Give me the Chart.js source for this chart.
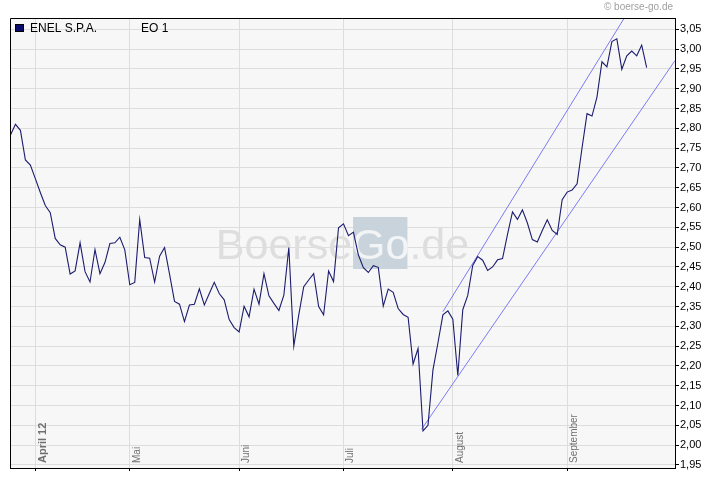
<!DOCTYPE html>
<html>
<head>
<meta charset="utf-8">
<script src="https://cdn.jsdelivr.net/npm/chart.js@4/dist/chart.umd.min.js"></script>
<style>
  html, body { margin: 0; padding: 0; background: #fff; }
  canvas { display: block; }
</style>
</head>
<body>
<canvas id="grafico" width="720" height="481"></canvas>
<script>
// Schlusskurse ENEL S.P.A., ein Wert pro Handelstag (26.03. - 25.09.2012)
const kurse = [
  2.783, 2.810, 2.795, 2.720, 2.707, 2.673, 2.638, 2.605, 2.587, 2.522,
  2.506, 2.500, 2.432, 2.440, 2.511, 2.438, 2.412, 2.494, 2.433, 2.461,
  2.509, 2.511, 2.525, 2.493, 2.405, 2.411, 2.570, 2.474, 2.472, 2.412,
  2.477, 2.499, 2.432, 2.363, 2.356, 2.312, 2.354, 2.356, 2.395, 2.354,
  2.383, 2.411, 2.383, 2.367, 2.317, 2.297, 2.286, 2.351, 2.324, 2.394,
  2.356, 2.433, 2.377, 2.358, 2.340, 2.379, 2.499, 2.250, 2.329, 2.400,
  2.417, 2.433, 2.350, 2.329, 2.440, 2.413, 2.549, 2.559, 2.529, 2.538,
  2.480, 2.448, 2.436, 2.453, 2.449, 2.351, 2.394, 2.386, 2.345, 2.330,
  2.323, 2.205, 2.244, 2.036, 2.050, 2.190, 2.258, 2.329, 2.339, 2.318,
  2.176, 2.342, 2.378, 2.454, 2.476, 2.467, 2.441, 2.450, 2.468, 2.471,
  2.532, 2.589, 2.570, 2.594, 2.561, 2.519, 2.513, 2.542, 2.569, 2.542,
  2.532, 2.620, 2.639, 2.644, 2.660, 2.751, 2.837, 2.831, 2.879, 2.968,
  2.955, 3.019, 3.026, 2.949, 2.983, 2.995, 2.983, 3.010, 2.953
];

// erster Handelstag je Monat (Index in kurse)
const monatIndex = [5, 24, 46, 67, 89, 112];
const monatLabels = ["April 12", "Mai", "Juni", "Juli", "August", "September"];

const yTicks = [1.95, 2.00, 2.05, 2.10, 2.15, 2.20, 2.25, 2.30, 2.35, 2.40, 2.45, 2.50,
                2.55, 2.60, 2.65, 2.70, 2.75, 2.80, 2.85, 2.90, 2.95, 3.00, 3.05];

// Trendkanal
const trendOben = [{ x: 87, y: 2.337 }, { x: 123.5, y: 3.0785 }];
const trendUnten = [{ x: 82.7, y: 2.040 }, { x: 133.7, y: 2.971 }];

const xMin = -0.1, xMax = 133.7;
const yMin = 1.9424, yMax = 3.0785;

const schrift = "'Liberation Sans', Arial, sans-serif";

const hintergrund = {
  id: "hintergrund",
  beforeDraw(chart) {
    const { ctx, chartArea: a } = chart;
    ctx.save();
    ctx.fillStyle = "#ffffff";
    ctx.fillRect(0, 0, chart.width, chart.height);
    ctx.fillStyle = "#f7f7f7";
    ctx.fillRect(a.left, a.top, a.right - a.left, a.bottom - a.top);
    ctx.restore();
  },
  beforeDatasetsDraw(chart) {
    // Wasserzeichen
    const { ctx, chartArea: a } = chart;
    const cx = (a.left + a.right) / 2;
    const cy = (a.top + a.bottom) / 2;
    ctx.save();
    ctx.font = "43px " + schrift;
    const w = ctx.measureText("BoerseGo.de").width;
    const wB = ctx.measureText("Boerse").width;
    const wG = ctx.measureText("Go").width;
    const x0 = cx - w / 2;
    const base = cy + 15.5;
    ctx.fillStyle = "#c9d3dc";
    ctx.fillRect(x0 + wB + 1, cy - 26, wG - 3, 52);
    ctx.textBaseline = "alphabetic";
    ctx.textAlign = "left";
    ctx.fillStyle = "#dedede";
    ctx.fillText("Boerse", x0, base);
    ctx.fillText(".de", x0 + wB + wG, base);
    ctx.fillStyle = "#f2f4f6";
    ctx.fillText("Go", x0 + wB, base);
    ctx.restore();
  },
  afterDraw(chart) {
    const { ctx, chartArea: a } = chart;
    const xs = chart.scales.x;
    ctx.save();

    // Rahmen oben und links
    ctx.strokeStyle = "#000";
    ctx.lineWidth = 1;
    ctx.beginPath();
    ctx.moveTo(a.left + 0.5, a.bottom);
    ctx.lineTo(a.left + 0.5, a.top + 0.5);
    ctx.lineTo(a.right, a.top + 0.5);
    ctx.stroke();

    // Monatsnamen senkrecht
    ctx.fillStyle = "#707070";
    ctx.textAlign = "left";
    ctx.textBaseline = "top";
    monatIndex.forEach((idx, i) => {
      const gx = xs.getPixelForValue(idx);
      ctx.save();
      ctx.translate(Math.round(gx) + 2, a.bottom - 5);
      ctx.rotate(-Math.PI / 2);
      ctx.font = (i === 0 ? "bold 11px " : "10px ") + schrift;
      ctx.fillText(monatLabels[i], 0, 0);
      ctx.restore();
    });

    // Legende
    ctx.fillStyle = "#0a0a6a";
    ctx.fillRect(15, 24, 9, 8);
    ctx.strokeStyle = "#000";
    ctx.strokeRect(15.5, 24.5, 8, 7);
    ctx.fillStyle = "#000";
    ctx.font = "12px " + schrift;
    ctx.textBaseline = "middle";
    ctx.fillText("ENEL S.P.A.", 30, 28.5);
    ctx.fillText("EO 1", 141, 28.5);

    // Copyright
    ctx.fillStyle = "#a0a0a0";
    ctx.font = "10px " + schrift;
    ctx.textAlign = "right";
    ctx.fillText("\u00a9 boerse-go.de", 673, 7);
    ctx.restore();
  }
};

const ctx = document.getElementById("grafico");

new Chart(ctx, {
  type: "line",
  data: {
    datasets: [
      {
        data: kurse.map((v, i) => ({ x: i, y: v })),
        borderColor: "#1c1c6e",
        borderWidth: 1.1,
        pointRadius: 0,
        tension: 0,
        order: 1
      },
      {
        data: trendOben,
        borderColor: "#7b7bf5",
        borderWidth: 1,
        pointRadius: 0,
        order: 2
      },
      {
        data: trendUnten,
        borderColor: "#7b7bf5",
        borderWidth: 1,
        pointRadius: 0,
        order: 2
      }
    ]
  },
  options: {
    responsive: false,
    animation: false,
    layout: { padding: { left: 10, top: 18, right: 0, bottom: 0 } },
    plugins: {
      legend: { display: false },
      tooltip: { enabled: false }
    },
    scales: {
      x: {
        type: "linear",
        min: xMin,
        max: xMax,
        afterBuildTicks: s => { s.ticks = monatIndex.map(v => ({ value: v })); },
        afterFit: s => { s.height = 13; },
        ticks: { display: false },
        grid: { color: "#dddddd", tickColor: "#000", tickLength: 3 },
        border: { color: "#000" }
      },
      y: {
        position: "right",
        min: yMin,
        max: yMax,
        afterBuildTicks: s => { s.ticks = yTicks.map(v => ({ value: v })); },
        afterFit: s => { s.width = 45; },
        ticks: {
          autoSkip: false,
          padding: 1,
          color: "#000",
          font: { family: schrift, size: 11 },
          callback: v => v.toFixed(2).replace(".", ",")
        },
        grid: { color: "#dddddd", tickColor: "#000", tickLength: 4 },
        border: { color: "#000" }
      }
    }
  },
  plugins: [hintergrund]
});
</script>
</body>
</html>
